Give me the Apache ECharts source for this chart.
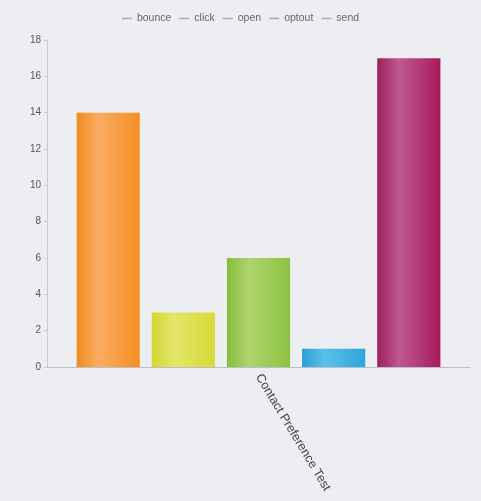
<!DOCTYPE html>
<html><head><meta charset="utf-8">
<script src="https://cdn.jsdelivr.net/npm/echarts@6/dist/echarts.min.js"></script>
<style>html,body{margin:0;padding:0;background:#eceef2}#c{width:481px;height:501px}</style>
</head><body><div id="c"></div>
<script>
const categories = ['Contact Preference Test'];
const seriesNames = ['bounce', 'click', 'open', 'optout', 'send'];
const bounce = [14];
const click = [3];
const open = [6];
const optout = [1];
const send = [17];
const yTicks = [0, 2, 4, 6, 8, 10, 12, 14, 16, 18];

const values = [bounce, click, open, optout, send];
const colors = [
  ['#f28a1e', '#f9ad62', '#f58d22'],
  ['#d3d631', '#e3e66a', '#d6da36'],
  ['#86bd3c', '#aed46e', '#8cc240'],
  ['#2a9fd2', '#5cc0e8', '#2ca6da'],
  ['#9c1f5c', '#be5a90', '#a8195e']
];
function grad(c) {
  return new echarts.graphic.LinearGradient(0, 0, 1, 0, [
    {offset: 0, color: c[0]}, {offset: 0.35, color: c[1]}, {offset: 1, color: c[2]}
  ]);
}
const chart = echarts.init(document.getElementById('c'));
chart.setOption({
  backgroundColor: '#eceef2',
  animation: false,
  legend: {
    top: 8, left: 'center',
    icon: 'rect', itemWidth: 10, itemHeight: 1.5, itemGap: 8,
    textStyle: {fontSize: 10.5, color: '#666', fontFamily: 'Liberation Sans'},
    data: seriesNames.map(n => ({name: n, itemStyle: {color: '#aaa'}}))
  },
  grid: {left: 47, right: 11, top: 40, bottom: 134},
  xAxis: {
    type: 'category', data: categories,
    axisLine: {lineStyle: {color: '#b8c0c8'}},
    axisTick: {show: false},
    axisLabel: {rotate: -59, fontSize: 12.5, color: '#444', margin: 8, fontFamily: 'Liberation Sans'}
  },
  yAxis: {
    type: 'value', min: 0, max: 18, interval: 2,
    axisLine: {show: true, lineStyle: {color: '#c4ccd4'}},
    axisTick: {show: true, length: 3, lineStyle: {color: '#c4ccd4'}},
    splitLine: {show: false},
    axisLabel: {fontSize: 10, color: '#555', margin: 6, fontFamily: 'Liberation Sans',
      formatter: v => yTicks.includes(v) ? String(v) : ''}
  },
  series: seriesNames.map((n, i) => ({
    name: n, type: 'bar', data: values[i],
    barGap: '19%', barCategoryGap: '14%',
    itemStyle: {color: grad(colors[i])}
  }))
});
</script></body></html>
